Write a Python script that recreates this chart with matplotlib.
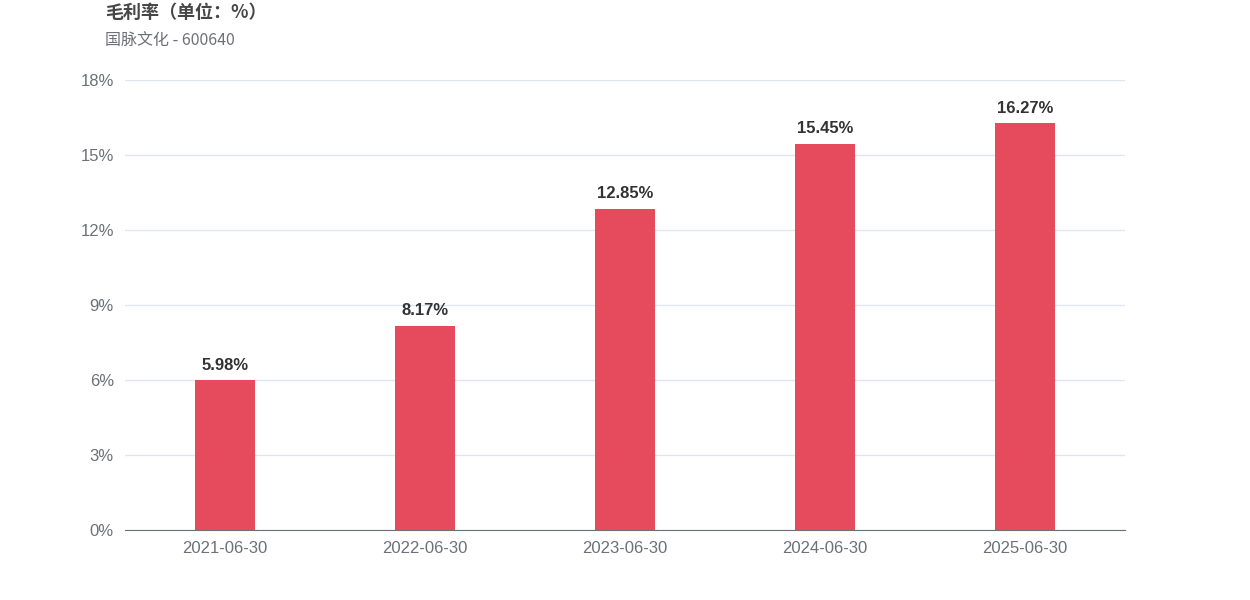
import matplotlib
matplotlib.use("Agg")
import matplotlib.pyplot as plt

plt.rcParams['font.family'] = ['Noto Sans CJK SC', 'DejaVu Sans']

categories = ["2021-06-30", "2022-06-30", "2023-06-30", "2024-06-30", "2025-06-30"]
values = [5.98, 8.17, 12.85, 15.45, 16.27]
yticks = [0, 3, 6, 9, 12, 15, 18]

fig = plt.figure(figsize=(12.5, 6), dpi=100)
ax = fig.add_axes([0.1, 0.1167, 0.8, 0.75])
x = range(len(categories))
ax.bar(x, values, width=0.3, color="#E54B5D", zorder=3)
for i, v in zip(x, values):
    ax.text(i, v + 0.3, f"{v:.2f}%", ha="center", va="bottom", fontsize=12,
            fontweight="bold", color="#333333", family=["Liberation Sans", "DejaVu Sans"])
ax.set_xlim(-0.5, len(categories) - 0.5)
ax.set_ylim(0, 18)
ax.set_yticks(yticks)
ax.set_yticklabels([f"{t}%" for t in yticks], family=["Liberation Sans"], fontsize=12, color="#6E7079")
ax.set_xticks(list(x))
ax.set_xticklabels(categories, family=["Liberation Sans"], fontsize=12, color="#6E7079")
ax.tick_params(length=0, pad=8)
ax.grid(axis="y", color="#E0E6F1", linewidth=1, zorder=0)
for s in ["top", "right", "left"]:
    ax.spines[s].set_visible(False)
ax.spines["bottom"].set_color("#6E7079")

fig.text(105/1250, 1 - 12/600, "毛利率（单位：%）", fontsize=13, fontweight="bold",
         color="#464646", va="center", ha="left")
fig.text(105/1250, 1 - 40/600, "国脉文化 - 600640", fontsize=11.5,
         color="#6E7079", va="center", ha="left")
fig.savefig("out.png", dpi=100)
